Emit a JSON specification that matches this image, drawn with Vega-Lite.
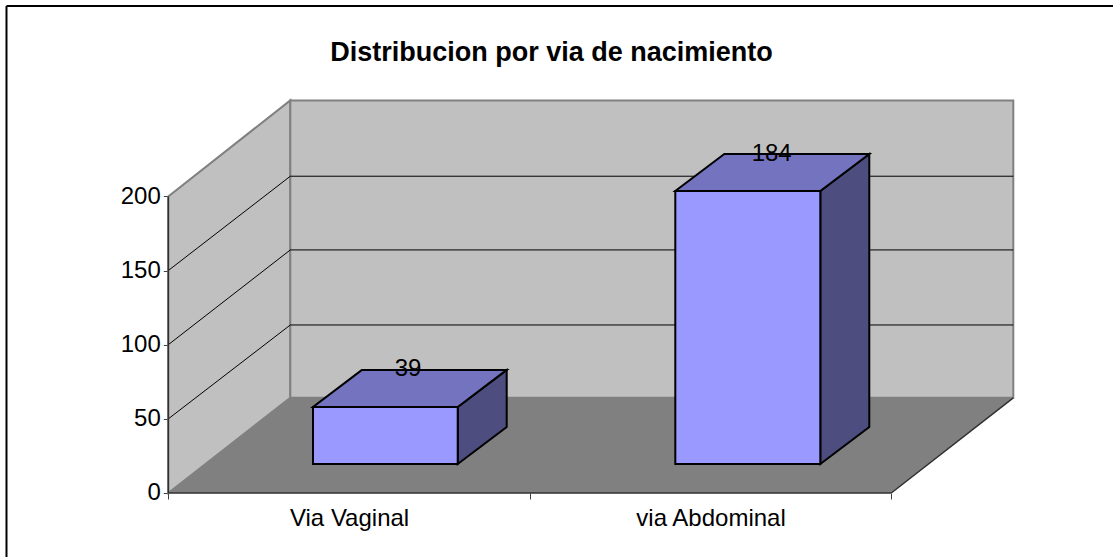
{
"$schema":"https://vega.github.io/schema/vega-lite/v6.json",
"width":1113,"height":557,"autosize":{"type":"none"},"padding":0,"background":"white",
"config":{"view":{"stroke":null},"font":"Liberation Sans"},
"title":{"text":"Distribucion por via de nacimiento","font":"Liberation Sans","fontSize":27,"fontWeight":"bold","color":"#000000","anchor":"middle","frame":"group","dx":-5,"offset":-67},
"datasets":{
"walls":[
{"face":"wall","part":"left","x":0,"y":0,"y2":200},
{"face":"wall","part":"left","x":0.3375,"y":64.2,"y2":264.73},
{"face":"wall","part":"back","x":0.3375,"y":64.2,"y2":264.73},
{"face":"wall","part":"back","x":2.3375,"y":64.2,"y2":264.73}],
"floor":[
{"face":"floor","part":"floor","y":0,"x":0,"x2":2},
{"face":"floor","part":"floor","y":64.2,"x":0.3375,"x2":2.3375}],
"grid":[
{"level":50,"x":0,"y":50},{"level":50,"x":0.3375,"y":113.3},{"level":50,"x":2.3375,"y":113.3},
{"level":100,"x":0,"y":100},{"level":100,"x":0.3375,"y":163.9},{"level":100,"x":2.3375,"y":163.9},
{"level":150,"x":0,"y":150},{"level":150,"x":0.3375,"y":213.6},{"level":150,"x":2.3375,"y":213.6}],
"frontEdges":[
{"edge":"yline","x":0,"y":0},{"edge":"yline","x":0,"y":200},
{"edge":"xline","x":0,"y":0},{"edge":"xline","x":2,"y":0},
{"edge":"floorRight","x":2,"y":0},{"edge":"floorRight","x":2.3375,"y":64.2}],
"frame":[
{"edge":"left","x":-0.4476,"y":-43.156},{"edge":"left","x":-0.4476,"y":328.4},
{"edge":"top","x":-0.4476,"y":328.4},{"edge":"top","x":2.6133,"y":328.4}],
"sides":[
{"face":"side","category":"Via Vaginal","x":0.8006,"y":19.55,"y2":58},
{"face":"side","category":"Via Vaginal","x":0.9361,"y":44.55,"y2":83},
{"face":"side","category":"via Abdominal","x":1.8036,"y":19.55,"y2":203.6},
{"face":"side","category":"via Abdominal","x":1.9391,"y":44.55,"y2":228.6}],
"tops":[
{"face":"top","category":"Via Vaginal","y":58,"x":0.4003,"x2":0.8006},
{"face":"top","category":"Via Vaginal","y":83,"x":0.5358,"x2":0.9361},
{"face":"top","category":"via Abdominal","y":203.6,"x":1.4025,"x2":1.8036},
{"face":"top","category":"via Abdominal","y":228.6,"x":1.538,"x2":1.9391}],
"bars":[
{"face":"front","category":"Via Vaginal","value":39,"x":0.4003,"x2":0.8006,"y":19.55,"y2":58,"labelX":0.663,"labelY":83.6},
{"face":"front","category":"via Abdominal","value":184,"x":1.4025,"x2":1.8036,"y":19.55,"y2":203.6,"labelX":1.669,"labelY":228.6}]
},
"data":{"name":"bars"},
"encoding":{
"x":{"field":"x","type":"quantitative","scale":{"domain":[-0.46556,2.61328],"nice":false,"zero":false},"axis":null},
"y":{"field":"y","type":"quantitative","scale":{"domain":[-43.156,332.43],"nice":false,"zero":false},"axis":null},
"color":{"field":"face","type":"nominal","legend":null,"scale":{"domain":["wall","floor","side","top","front"],"range":["#c0c0c0","#808080","#4d4d80","#7373bf","#9999ff"]}}
},
"layer":[
{"data":{"name":"walls"},"mark":{"type":"area","orient":"vertical","stroke":"#808080","strokeWidth":2},
 "encoding":{"y2":{"field":"y2"},"detail":{"field":"part"}}},
{"data":{"name":"floor"},"mark":{"type":"area","orient":"horizontal"},
 "encoding":{
  "x":{"field":"x","type":"quantitative","scale":{"domain":[-0.46556,2.61328],"nice":false,"zero":false},
   "axis":{"orient":"bottom","offset":-64,"values":[0,1,2],"labels":false,"domain":false,"grid":false,"title":null,"ticks":true,"tickSize":6,"tickColor":"#404040","tickWidth":1}},
  "x2":{"field":"x2"}}},
{"data":{"name":"grid"},"mark":{"type":"line","stroke":"#000000","strokeWidth":1},
 "encoding":{"detail":{"field":"level"},"color":{"value":"#000000"}}},
{"data":{"name":"frontEdges"},"mark":{"type":"line","strokeWidth":1.5},
 "encoding":{"detail":{"field":"edge"},"color":{"value":"#303030"}}},
{"data":{"name":"sides"},"mark":{"type":"area","orient":"vertical","stroke":"#000000","strokeWidth":2},
 "encoding":{"y2":{"field":"y2"},"detail":{"field":"category"}}},
{"data":{"name":"tops"},"mark":{"type":"area","orient":"horizontal","stroke":"#000000","strokeWidth":2},
 "encoding":{"x2":{"field":"x2"},"detail":{"field":"category"}}},
{"mark":{"type":"rect","stroke":"#000000","strokeWidth":2},
 "encoding":{
  "x":{"field":"x","type":"quantitative","scale":{"domain":[-0.46556,2.61328],"nice":false,"zero":false},
   "axis":{"orient":"bottom","offset":-64,"values":[0.5,1.5],"labelExpr":"datum.value < 1 ? 'Via Vaginal' : 'via Abdominal'","ticks":false,"domain":false,"grid":false,"title":null,"labelFont":"Liberation Sans","labelFontSize":24,"labelColor":"#000000","labelPadding":13,"labelFlush":false,"labelOverlap":false,"labelBound":false}},
  "x2":{"field":"x2"},
  "y":{"field":"y","type":"quantitative","scale":{"domain":[-43.156,332.43],"nice":false,"zero":false},
   "axis":{"orient":"left","offset":-168.3,"values":[0,50,100,150,200],"domain":false,"grid":false,"title":null,"tickSize":5,"tickColor":"#404040","tickWidth":1,"labelFont":"Liberation Sans","labelFontSize":24,"labelColor":"#000000","labelPadding":3,"labelOverlap":false,"labelBound":false,"labelFlush":false}},
  "y2":{"field":"y2"}}},
{"mark":{"type":"text","font":"Liberation Sans","fontSize":24,"color":"#000000","baseline":"middle","align":"center"},
 "encoding":{"x":{"field":"labelX","type":"quantitative"},"y":{"field":"labelY","type":"quantitative"},"text":{"field":"value","type":"quantitative"},"color":{"value":"#000000"}}},
{"data":{"name":"frame"},"mark":{"type":"line","strokeWidth":2},
 "encoding":{"detail":{"field":"edge"},"color":{"value":"#000000"}}}
],
"resolve":{"axis":{"x":"independent","y":"independent"}}
}
